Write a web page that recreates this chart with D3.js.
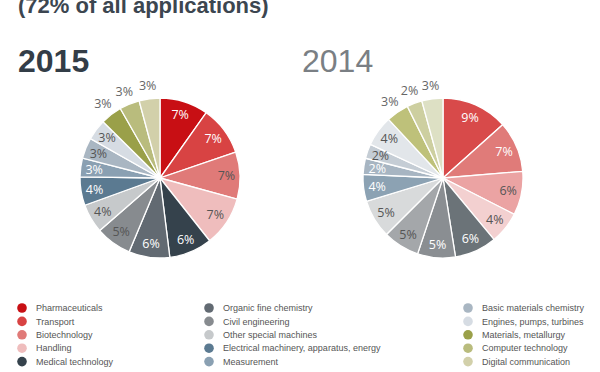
<!DOCTYPE html>
<html>
<head>
<meta charset="utf-8">
<script src="https://cdn.jsdelivr.net/npm/d3@7"></script>
<style>
	body { margin: 0; background: #fff; }
	svg { display: block; }
</style>
</head>
<body>
<div class="chart"></div>
<script>
// chart data (share of all applications, %)
const categories = [
	"Pharmaceuticals", "Transport", "Biotechnology", "Handling", "Medical technology",
	"Organic  fine chemistry", "Civil engineering", "Other special machines",
	"Electrical machinery, apparatus, energy", "Measurement",
	"Basic materials chemistry", "Engines, pumps, turbines", "Materials, metallurgy",
	"Computer technology", "Digital communication"
];
const share2015 = [7.0, 7.1, 6.8, 7.2, 6.2, 5.9, 5.2, 4.2, 4.1, 2.7, 3.0, 3.0, 3.1, 2.9, 3.0];
const share2014 = [9.1, 7.0, 6.0, 4.4, 5.8, 5.2, 5.0, 5.3, 3.7, 2.2, 2.0, 4.2, 3.1, 2.1, 2.9];
const years = ["2015", "2014"];

var w = 600,
	h = 372,
	r = 80,
	svg;

// colours per slice, 2014 pie is drawn in faded tones
const colors2015 = ["#c80f14", "#d84343", "#e07a78", "#efbdbd", "#35424c", "#626a72", "#878b8f",
	"#c6c9cb", "#5b7a91", "#8aa0b2", "#a9b6c2", "#d6dce3", "#9aa049", "#b9bc7d", "#d2d0aa"];
const colors2014 = ["#d84a4a", "#e07b79", "#eba3a3", "#f3d0d0", "#6b7378", "#8a8e92", "#a4a7aa",
	"#d8dadb", "#8ca2b3", "#a7b5c2", "#c5cdd5", "#e2e6ea", "#bec17a", "#cdcfa0", "#dde0c4"];
const darkLabel2015 = [false, false, true, true, false, false, true, true, false, false, true, true, true, true, true];
const darkLabel2014 = [false, false, true, true, false, false, true, true, false, false, true, true, true, true, true];

svg = d3.select(".chart").append("svg").attr("width", w).attr("height", h);

svg.append("text")
	.attr("x", 18)
	.attr("y", 13)
	.style("font", "bold 22px 'Liberation Sans', Arial, sans-serif")
	.style("fill", "#3c4650")
	.text("(72% of all applications)");

svg.append("text")
	.attr("x", 18)
	.attr("y", 72)
	.style("font", "bold 32px 'Liberation Sans', Arial, sans-serif")
	.style("fill", "#333d47")
	.text(years[0]);

svg.append("text")
	.attr("x", 302)
	.attr("y", 72)
	.style("font", "32px 'Liberation Sans', Arial, sans-serif")
	.style("fill", "#7a7f84")
	.text(years[1]);

drawPie(share2015, colors2015, darkLabel2015, 160, 178);
drawPie(share2014, colors2014, darkLabel2014, 443, 178);

function drawPie(values, colors, dark, cx, cy) {
	const pie = d3.pie().sort(null).value((d) => d);
	const arcs = pie(values);
	const arc = d3.arc().innerRadius(0).outerRadius(r);
	const inner = d3.arc().innerRadius(r * 0.83).outerRadius(r * 0.83);
	const outer = d3.arc().innerRadius(r * 1.17).outerRadius(r * 1.17);

	const g = svg.append("g").attr("transform", "translate(" + cx + "," + cy + ")");

	g.selectAll("path")
		.data(arcs)
		.enter()
		.append("path")
		.attr("d", arc)
		.attr("fill", (d, i) => colors[i])
		.attr("stroke", "#fff")
		.attr("stroke-width", 1.3);

	g.selectAll("text")
		.data(arcs)
		.enter()
		.append("text")
		.attr("transform", function (d) {
			const mid = (d.startAngle + d.endAngle) / 2;
			// slices near the top left are labelled outside the pie
			const c = mid > Math.PI * 1.75 ? outer.centroid(d) : inner.centroid(d);
			return "translate(" + c[0] + "," + c[1] + ")";
		})
		.attr("text-anchor", "middle")
		.attr("dy", ".36em")
		.style("font", "12.5px 'Open Sans', sans-serif")
		.style("fill", function (d, i) {
			const mid = (d.startAngle + d.endAngle) / 2;
			if (mid > Math.PI * 1.75) return "#666";
			return dark[i] ? "#555" : "#fff";
		})
		.text((d) => Math.round(d.data) + "%");
}

// legend, three columns of five
const legend = svg
	.append("g")
	.attr("id", "legend")
	.selectAll("g")
	.data(categories)
	.enter()
	.append("g")
	.attr("transform", function (d, i) {
		const col = Math.floor(i / 5);
		const x = [22, 209, 468][col];
		return "translate(" + x + "," + (308 + (i % 5) * 13.4) + ")";
	});

legend
	.append("circle")
	.attr("r", 4.8)
	.style("fill", (d, i) => colors2015[i]);

legend
	.append("text")
	.attr("x", 14)
	.attr("dy", ".35em")
	.style("font", "9px 'Liberation Sans', Arial, sans-serif")
	.style("fill", "#555")
	.text((d) => d);
</script>
</body>
</html>
